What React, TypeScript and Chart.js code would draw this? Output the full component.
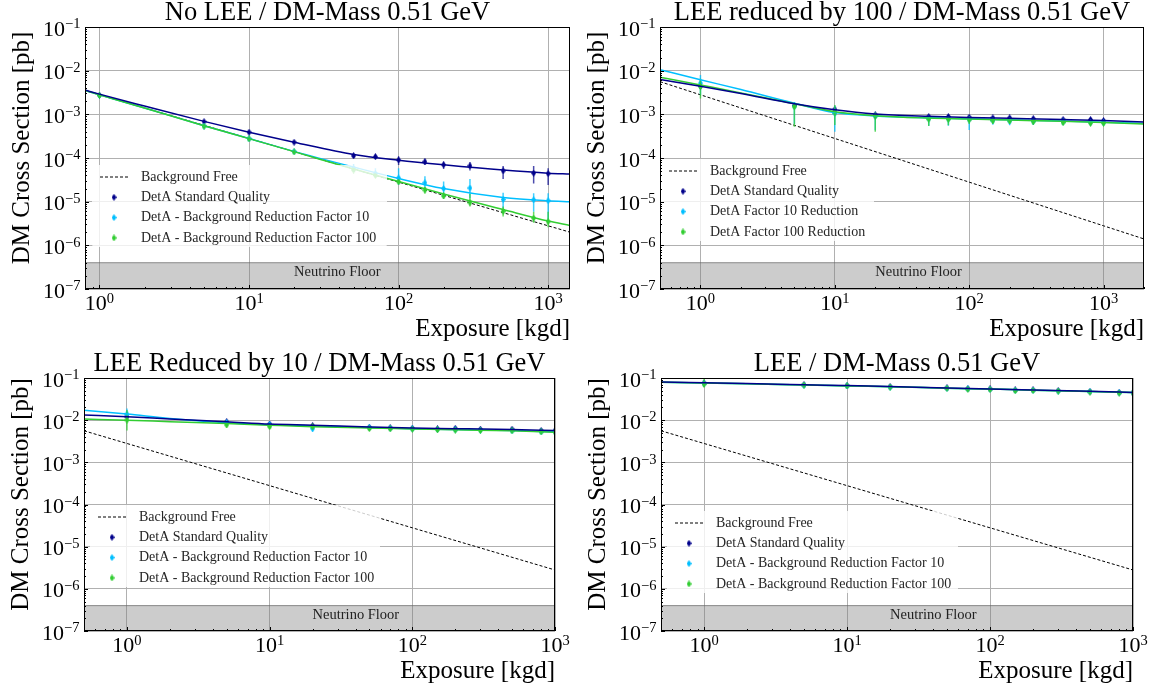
import React, { useEffect, useRef } from "react";
import { Chart, registerables } from "chart.js";
Chart.register(...registerables);

const SERIF = '"Liberation Serif", "DejaVu Serif", serif';

// ---------------- data ----------------
const EXPOSURE = [1, 5, 10, 20, 50, 70, 100, 150, 200, 300, 500, 800, 1000];

const FIT_X_NOLEE = [0.8, 1, 2, 5, 10, 20, 50, 100, 200, 500, 1000, 1400];
const FIT_X_LEE100 = [0.5, 1, 2, 5, 10, 20, 50, 100, 200, 500, 1000, 2000];
const FIT_X_LEE = [0.5, 1, 2, 5, 10, 20, 50, 100, 200, 500, 1000];

const BG_FREE_X = [0.5, 1, 10, 100, 1000, 2000];
const BG_FREE_Y = [5.6e-3, 2.8e-3, 2.8e-4, 2.8e-5, 2.8e-6, 1.4e-6];

const NU_FLOOR_TOP = 4e-7;
const NU_LABEL = "Neutrino Floor";
const NU_LABEL_X = 20;
const NU_LABEL_Y = 2.4e-7;

const X_TICKS = [1, 10, 100, 1000];
const X_TICK_EXP = ["0", "1", "2", "3"];
const Y_TICKS = [1e-7, 1e-6, 1e-5, 1e-4, 1e-3, 1e-2, 1e-1];
const Y_TICK_EXP = ["\u22127", "\u22126", "\u22125", "\u22124", "\u22123", "\u22122", "\u22121"];

const X_LABEL = "Exposure [kgd]";
const Y_LABEL = "DM Cross Section [pb]";
const BG_LABEL = "Background Free";
const SERIES_LABELS_A = [
  "DetA Standard Quality",
  "DetA - Background Reduction Factor 10",
  "DetA - Background Reduction Factor 100",
];
const SERIES_LABELS_B = ["DetA Standard Quality", "DetA Factor 10 Reduction", "DetA Factor 100 Reduction"];

// --- No LEE ---
const NOLEE_STD_Y = [2.75e-3, 6.8e-4, 3.9e-4, 2.3e-4, 1.12e-4, 1.07e-4, 9.0e-5, 8.2e-5, 7.0e-5, 6.6e-5, 5.1e-5, 4.5e-5, 4.4e-5];
const NOLEE_STD_LO = [2.55e-3, 6.3e-4, 3.65e-4, 2.15e-4, 1.0e-4, 9.5e-5, 6.9e-5, 6.9e-5, 5.6e-5, 5.2e-5, 3.3e-5, 2.6e-5, 2.4e-5];
const NOLEE_STD_HI = [2.95e-3, 7.3e-4, 4.15e-4, 2.45e-4, 1.3e-4, 1.22e-4, 1.07e-4, 9.6e-5, 8.2e-5, 8.0e-5, 6.6e-5, 6.6e-5, 5.8e-5];
const NOLEE_F10_Y = [2.7e-3, 5.4e-4, 2.75e-4, 1.4e-4, 5.8e-5, 4.4e-5, 3.5e-5, 2.7e-5, 2.0e-5, 2.05e-5, 1.12e-5, 1.1e-5, 1.05e-5];
const NOLEE_F10_LO = [2.5e-3, 5.0e-4, 2.6e-4, 1.3e-4, 4.8e-5, 3.6e-5, 2.4e-5, 1.9e-5, 1.4e-5, 1.2e-5, 7.0e-6, 5.9e-6, 3.8e-6];
const NOLEE_F10_HI = [2.9e-3, 5.8e-4, 2.95e-4, 1.5e-4, 7.0e-5, 5.8e-5, 5.8e-5, 3.8e-5, 2.9e-5, 3.3e-5, 1.6e-5, 1.55e-5, 1.55e-5];
const NOLEE_F100_Y = [2.7e-3, 5.3e-4, 2.75e-4, 1.38e-4, 5.3e-5, 4.0e-5, 2.85e-5, 1.85e-5, 1.35e-5, 9.5e-6, 6.0e-6, 4.2e-6, 3.5e-6];
const NOLEE_F100_LO = [2.5e-3, 4.9e-4, 2.6e-4, 1.28e-4, 4.8e-5, 3.6e-5, 2.5e-5, 1.55e-5, 1.15e-5, 7.8e-6, 4.6e-6, 3.3e-6, 2.6e-6];
const NOLEE_F100_HI = [2.9e-3, 5.8e-4, 2.95e-4, 1.5e-4, 5.9e-5, 4.5e-5, 3.3e-5, 2.2e-5, 1.6e-5, 1.5e-5, 7.8e-6, 5.9e-6, 5.9e-6];
const NOLEE_STD_FIT = [3.6e-3, 2.9e-3, 1.55e-3, 6.9e-4, 3.9e-4, 2.3e-4, 1.2e-4, 8.9e-5, 7.0e-5, 5.3e-5, 4.5e-5, 4.3e-5];
const NOLEE_F10_FIT = [3.5e-3, 2.8e-3, 1.4e-3, 5.5e-4, 2.8e-4, 1.42e-4, 6.2e-5, 3.4e-5, 2.0e-5, 1.25e-5, 1.05e-5, 1.0e-5];
const NOLEE_F100_FIT = [3.5e-3, 2.8e-3, 1.4e-3, 5.5e-4, 2.78e-4, 1.4e-4, 5.6e-5, 2.9e-5, 1.5e-5, 6.6e-6, 3.6e-6, 2.85e-6];

// --- LEE reduced by 100 ---
const L100_STD_Y = [4.4e-3, 1.6e-3, 1.3e-3, 9.8e-4, 8.9e-4, 8.9e-4, 8.6e-4, 8.3e-4, 8.3e-4, 8.0e-4, 7.6e-4, 7.6e-4, 7.2e-4];
const L100_STD_LO = [3.9e-3, 1.45e-3, 1.2e-3, 9.0e-4, 8.3e-4, 8.3e-4, 8.0e-4, 7.8e-4, 7.8e-4, 7.5e-4, 7.1e-4, 7.1e-4, 6.8e-4];
const L100_STD_HI = [4.9e-3, 1.75e-3, 1.45e-3, 1.06e-3, 9.5e-4, 9.5e-4, 9.2e-4, 8.9e-4, 8.9e-4, 8.5e-4, 8.1e-4, 8.1e-4, 7.7e-4];
const L100_F10_Y = [5.2e-3, 1.5e-3, 1.05e-3, 9.0e-4, 7.9e-4, 7.8e-4, 7.6e-4, 7.2e-4, 7.0e-4, 6.9e-4, 6.7e-4, 6.5e-4, 6.4e-4];
const L100_F10_LO = [2.8e-3, 6.0e-4, 4.0e-4, 4.3e-4, 5.5e-4, 5.5e-4, 4.4e-4, 5.8e-4, 5.6e-4, 5.7e-4, 5.6e-4, 5.5e-4, 5.5e-4];
const L100_F10_HI = [8.0e-3, 1.9e-3, 1.6e-3, 1.1e-3, 8.9e-4, 8.8e-4, 8.6e-4, 8.2e-4, 8.0e-4, 7.8e-4, 7.6e-4, 7.4e-4, 7.3e-4];
const L100_F100_Y = [4.3e-3, 1.5e-3, 1.1e-3, 9.1e-4, 7.8e-4, 7.7e-4, 7.5e-4, 7.2e-4, 7.1e-4, 6.8e-4, 6.5e-4, 6.3e-4, 6.3e-4];
const L100_F100_LO = [2.3e-3, 5.2e-4, 5.7e-4, 4.0e-4, 5.4e-4, 5.6e-4, 6.0e-4, 6.0e-4, 6.0e-4, 5.8e-4, 5.6e-4, 5.5e-4, 5.5e-4];
const L100_F100_HI = [6.5e-3, 1.79e-3, 1.64e-3, 1.1e-3, 8.8e-4, 8.8e-4, 8.4e-4, 8.1e-4, 8.0e-4, 7.7e-4, 7.3e-4, 7.1e-4, 7.0e-4];
const L100_STD_FIT = [6.3e-3, 4.4e-3, 3.0e-3, 1.75e-3, 1.27e-3, 1.02e-3, 9.0e-4, 8.5e-4, 8.1e-4, 7.6e-4, 7.2e-4, 6.7e-4];
const L100_F10_FIT = [1.05e-2, 6.2e-3, 3.7e-3, 1.8e-3, 1.1e-3, 9.2e-4, 8.3e-4, 7.9e-4, 7.5e-4, 7.0e-4, 6.6e-4, 6.2e-4];
const L100_F100_FIT = [7.1e-3, 4.7e-3, 3.1e-3, 1.75e-3, 1.15e-3, 9.3e-4, 8.2e-4, 7.8e-4, 7.4e-4, 6.9e-4, 6.5e-4, 6.0e-4];

// --- LEE reduced by 10 ---
const L10_STD_Y = [1.21e-2, 9.2e-3, 8.1e-3, 7.4e-3, 6.8e-3, 6.6e-3, 6.45e-3, 6.3e-3, 6.4e-3, 6.1e-3, 6.1e-3, 5.7e-3, 5.66e-3];
const L10_STD_LO = [1.0e-2, 8.4e-3, 7.5e-3, 6.9e-3, 6.3e-3, 6.1e-3, 6.0e-3, 5.8e-3, 5.9e-3, 5.6e-3, 5.6e-3, 5.3e-3, 5.2e-3];
const L10_STD_HI = [1.45e-2, 1.0e-2, 8.8e-3, 8.0e-3, 7.3e-3, 7.1e-3, 6.9e-3, 6.8e-3, 6.9e-3, 6.6e-3, 6.6e-3, 6.1e-3, 6.1e-3];
const L10_F10_Y = [1.4e-2, 8.7e-3, 7.8e-3, 6.3e-3, 6.7e-3, 6.5e-3, 6.2e-3, 6.0e-3, 5.9e-3, 5.8e-3, 5.6e-3, 5.3e-3, 5.3e-3];
const L10_F10_LO = [9.0e-3, 7.5e-3, 6.8e-3, 5.3e-3, 5.9e-3, 5.8e-3, 5.5e-3, 5.3e-3, 5.3e-3, 5.2e-3, 5.0e-3, 4.8e-3, 4.8e-3];
const L10_F10_HI = [1.9e-2, 9.8e-3, 8.8e-3, 7.2e-3, 7.4e-3, 7.2e-3, 6.9e-3, 6.7e-3, 6.5e-3, 6.4e-3, 6.2e-3, 5.8e-3, 5.8e-3];
const L10_F100_Y = [1.0e-2, 7.7e-3, 7.0e-3, 7.0e-3, 6.3e-3, 6.2e-3, 6.1e-3, 5.9e-3, 5.8e-3, 5.65e-3, 5.6e-3, 5.26e-3, 5.2e-3];
const L10_F100_LO = [5.7e-3, 6.6e-3, 6.2e-3, 6.3e-3, 5.7e-3, 5.6e-3, 5.5e-3, 5.4e-3, 5.3e-3, 5.2e-3, 5.1e-3, 4.8e-3, 4.8e-3];
const L10_F100_HI = [1.74e-2, 8.9e-3, 7.8e-3, 7.7e-3, 6.9e-3, 6.8e-3, 6.7e-3, 6.5e-3, 6.4e-3, 6.2e-3, 6.1e-3, 5.7e-3, 5.7e-3];
const L10_STD_FIT = [1.32e-2, 1.21e-2, 1.07e-2, 9.2e-3, 8.1e-3, 7.6e-3, 6.9e-3, 6.5e-3, 6.3e-3, 6.0e-3, 5.66e-3];
const L10_F10_FIT = [1.73e-2, 1.4e-2, 1.1e-2, 8.7e-3, 7.8e-3, 7.3e-3, 6.7e-3, 6.3e-3, 6.0e-3, 5.66e-3, 5.3e-3];
const L10_F100_FIT = [1.06e-2, 1.0e-2, 9.2e-3, 8.3e-3, 7.6e-3, 7.0e-3, 6.5e-3, 6.2e-3, 5.9e-3, 5.6e-3, 5.2e-3];

// --- LEE ---
const LEE_STD_Y = [7.6e-2, 6.9e-2, 6.6e-2, 6.2e-2, 5.8e-2, 5.6e-2, 5.5e-2, 5.2e-2, 5.2e-2, 5.0e-2, 4.8e-2, 4.55e-2, 4.47e-2];
const LEE_STD_LO = [6.6e-2, 6.4e-2, 6.2e-2, 5.8e-2, 5.5e-2, 5.3e-2, 5.2e-2, 4.9e-2, 4.9e-2, 4.75e-2, 4.55e-2, 4.3e-2, 4.25e-2];
const LEE_STD_HI = [8.8e-2, 7.5e-2, 7.0e-2, 6.6e-2, 6.1e-2, 5.9e-2, 5.8e-2, 5.5e-2, 5.5e-2, 5.25e-2, 5.05e-2, 4.8e-2, 4.7e-2];
const LEE_F10_Y = [7.4e-2, 6.7e-2, 6.5e-2, 6.1e-2, 5.7e-2, 5.5e-2, 5.4e-2, 5.1e-2, 5.1e-2, 4.9e-2, 4.7e-2, 4.45e-2, 4.4e-2];
const LEE_F10_LO = [6.2e-2, 6.2e-2, 6.1e-2, 5.7e-2, 5.4e-2, 5.2e-2, 5.1e-2, 4.8e-2, 4.8e-2, 4.65e-2, 4.45e-2, 4.2e-2, 4.15e-2];
const LEE_F10_HI = [9.0e-2, 7.3e-2, 6.9e-2, 6.5e-2, 6.0e-2, 5.8e-2, 5.7e-2, 5.4e-2, 5.4e-2, 5.15e-2, 4.95e-2, 4.7e-2, 4.65e-2];
const LEE_F100_Y = [7.2e-2, 6.8e-2, 6.5e-2, 6.1e-2, 5.7e-2, 5.4e-2, 5.35e-2, 5.0e-2, 5.05e-2, 4.9e-2, 4.65e-2, 4.4e-2, 4.4e-2];
const LEE_F100_LO = [6.1e-2, 6.3e-2, 6.1e-2, 5.7e-2, 5.4e-2, 5.1e-2, 5.05e-2, 4.7e-2, 4.75e-2, 4.65e-2, 4.4e-2, 4.15e-2, 4.15e-2];
const LEE_F100_HI = [9.5e-2, 7.4e-2, 6.9e-2, 6.5e-2, 6.0e-2, 5.7e-2, 5.65e-2, 5.3e-2, 5.35e-2, 5.15e-2, 4.9e-2, 4.65e-2, 4.65e-2];
const LEE_STD_FIT = [8.0e-2, 7.7e-2, 7.4e-2, 6.9e-2, 6.6e-2, 6.25e-2, 5.8e-2, 5.5e-2, 5.2e-2, 4.85e-2, 4.55e-2];
const LEE_F10_FIT = [7.9e-2, 7.6e-2, 7.3e-2, 6.8e-2, 6.5e-2, 6.2e-2, 5.75e-2, 5.45e-2, 5.15e-2, 4.8e-2, 4.5e-2];
const LEE_F100_FIT = [7.9e-2, 7.6e-2, 7.3e-2, 6.8e-2, 6.5e-2, 6.2e-2, 5.75e-2, 5.45e-2, 5.15e-2, 4.8e-2, 4.5e-2];

// ---------------- styles / layout ----------------
const SERIES_COLORS = ["#00008b", "#00bfff", "#32cd32"];
const SERIES_ERR_COLORS = ["rgba(0,0,139,0.7)", "rgba(0,191,255,0.75)", "rgba(50,205,50,0.75)"];
const CANVAS_W = 575;
const CANVAS_H = 344;
const Y_AXIS_W = 60;
const X_AXIS_H = 30;

type PanelSpec = {
  key: string;
  title: string;
  left: number;
  top: number;
  pad: { left: number; right: number; top: number; bottom: number };
  xMin: number;
  xMax: number;
  fitX: number[];
  fits: number[][];
  ys: number[][];
  lo: number[][];
  hi: number[][];
  labels: string[];
  legend: { dx: number; dy: number; w: number; h: number };
};

const PANELS: PanelSpec[] = [
  {
    key: "nolee",
    title: "No LEE / DM-Mass 0.51 GeV",
    left: 0,
    top: 0,
    pad: { left: 25, right: 5, top: 27, bottom: 25 },
    xMin: 0.8,
    xMax: 1400,
    fitX: FIT_X_NOLEE,
    fits: [NOLEE_STD_FIT, NOLEE_F10_FIT, NOLEE_F100_FIT],
    ys: [NOLEE_STD_Y, NOLEE_F10_Y, NOLEE_F100_Y],
    lo: [NOLEE_STD_LO, NOLEE_F10_LO, NOLEE_F100_LO],
    hi: [NOLEE_STD_HI, NOLEE_F10_HI, NOLEE_F100_HI],
    labels: SERIES_LABELS_A,
    legend: { dx: 7, dy: 138, w: 295, h: 82 },
  },
  {
    key: "lee100",
    title: "LEE reduced by 100 / DM-Mass 0.51 GeV",
    left: 575,
    top: 0,
    pad: { left: 25, right: 6, top: 27, bottom: 25 },
    xMin: 0.5,
    xMax: 2000,
    fitX: FIT_X_LEE100,
    fits: [L100_STD_FIT, L100_F10_FIT, L100_F100_FIT],
    ys: [L100_STD_Y, L100_F10_Y, L100_F100_Y],
    lo: [L100_STD_LO, L100_F10_LO, L100_F100_LO],
    hi: [L100_STD_HI, L100_F10_HI, L100_F100_HI],
    labels: SERIES_LABELS_B,
    legend: { dx: 1, dy: 132, w: 213, h: 82 },
  },
  {
    key: "lee10",
    title: "LEE Reduced by 10 / DM-Mass 0.51 GeV",
    left: 0,
    top: 344,
    pad: { left: 24, right: 20, top: 34, bottom: 27 },
    xMin: 0.5,
    xMax: 1000,
    fitX: FIT_X_LEE,
    fits: [L10_STD_FIT, L10_F10_FIT, L10_F100_FIT],
    ys: [L10_STD_Y, L10_F10_Y, L10_F100_Y],
    lo: [L10_STD_LO, L10_F10_LO, L10_F100_LO],
    hi: [L10_STD_HI, L10_F10_HI, L10_F100_HI],
    labels: SERIES_LABELS_A,
    legend: { dx: 6, dy: 127, w: 290, h: 82 },
  },
  {
    key: "lee",
    title: "LEE / DM-Mass 0.51 GeV",
    left: 575,
    top: 344,
    pad: { left: 26, right: 17, top: 34, bottom: 27 },
    xMin: 0.5,
    xMax: 1000,
    fitX: FIT_X_LEE,
    fits: [LEE_STD_FIT, LEE_F10_FIT, LEE_F100_FIT],
    ys: [LEE_STD_Y, LEE_F10_Y, LEE_F100_Y],
    lo: [LEE_STD_LO, LEE_F10_LO, LEE_F100_LO],
    hi: [LEE_STD_HI, LEE_F10_HI, LEE_F100_HI],
    labels: SERIES_LABELS_A,
    legend: { dx: 6, dy: 133, w: 291, h: 82 },
  },
];

function makeDiamond(color: string): HTMLCanvasElement {
  const c = document.createElement("canvas");
  c.width = 5;
  c.height = 7;
  const g = c.getContext("2d")!;
  g.fillStyle = color;
  g.beginPath();
  g.moveTo(2.5, 0);
  g.lineTo(5, 3.5);
  g.lineTo(2.5, 7);
  g.lineTo(0, 3.5);
  g.closePath();
  g.fill();
  return c;
}

function errorSegments(xs: number[], lo: number[], hi: number[]) {
  const out: { x: number; y: number | null }[] = [];
  xs.forEach((x, i) => {
    out.push({ x, y: lo[i] }, { x, y: hi[i] }, { x, y: null });
  });
  return out;
}

function zip(xs: number[], ys: number[]) {
  return xs.map((x, i) => ({ x, y: ys[i] }));
}

function buildConfig(p: PanelSpec): any {
  const diamonds = SERIES_COLORS.map(makeDiamond);
  const ds: any[] = [];
  // neutrino floor band
  ds.push({
    data: [
      { x: p.xMin, y: NU_FLOOR_TOP },
      { x: p.xMax, y: NU_FLOOR_TOP },
    ],
    fill: "start",
    backgroundColor: "rgba(128,128,128,0.4)",
    borderColor: "rgba(100,100,100,0.7)",
    borderWidth: 1,
    pointRadius: 0,
  });
  // background-free line
  ds.push({
    data: zip(BG_FREE_X, BG_FREE_Y),
    borderColor: "#000",
    borderWidth: 1,
    borderDash: [3, 2],
    pointRadius: 0,
    fill: false,
  });
  // points + error bars
  for (let s = 0; s < 3; s++) {
    ds.push({
      data: errorSegments(EXPOSURE, p.lo[s], p.hi[s]),
      borderColor: SERIES_ERR_COLORS[s],
      borderWidth: 1.5,
      pointRadius: 0,
      spanGaps: false,
      fill: false,
    });
    ds.push({
      data: zip(EXPOSURE, p.ys[s]),
      showLine: false,
      pointStyle: diamonds[s],
      pointRadius: 3,
      borderWidth: 0,
      fill: false,
    });
  }
  // fit curves: cyan, green, navy on top
  [1, 2, 0].forEach((s) => {
    ds.push({
      data: zip(p.fitX, p.fits[s]),
      borderColor: SERIES_COLORS[s],
      borderWidth: 1.5,
      pointRadius: 0,
      cubicInterpolationMode: "monotone",
      fill: false,
    });
  });
  const n = ds.length;
  ds.forEach((d, i) => (d.order = n - i));

  const decor = {
    id: "decor_" + p.key,
    afterDatasetsDraw(chart: any) {
      const ctx: CanvasRenderingContext2D = chart.ctx;
      const a = chart.chartArea;
      const xs = chart.scales.x;
      const ys = chart.scales.y;
      ctx.save();

      // neutrino floor label
      ctx.fillStyle = "#222";
      ctx.font = `14.5px ${SERIF}`;
      ctx.textAlign = "left";
      ctx.textBaseline = "middle";
      ctx.fillText(NU_LABEL, xs.getPixelForValue(NU_LABEL_X), ys.getPixelForValue(NU_LABEL_Y));

      // legend
      const bx = a.left + p.legend.dx;
      const by = a.top + p.legend.dy;
      ctx.fillStyle = "rgba(255,255,255,0.8)";
      ctx.beginPath();
      ctx.roundRect(bx, by, p.legend.w, p.legend.h, 3);
      ctx.fill();
      const rowY = (i: number) => by + 12 + i * 20.3;
      ctx.strokeStyle = "#000";
      ctx.lineWidth = 1;
      ctx.setLineDash([3, 2]);
      ctx.beginPath();
      ctx.moveTo(bx + 8, rowY(0));
      ctx.lineTo(bx + 37, rowY(0));
      ctx.stroke();
      ctx.setLineDash([]);
      ctx.font = `14px ${SERIF}`;
      ctx.fillStyle = "#262626";
      ctx.textAlign = "left";
      ctx.textBaseline = "middle";
      ctx.fillText(BG_LABEL, bx + 49, rowY(0));
      for (let s = 0; s < 3; s++) {
        ctx.drawImage(diamonds[s], bx + 22 - 2.5, rowY(s + 1) - 3.5);
        ctx.fillText(p.labels[s], bx + 49, rowY(s + 1));
      }

      // spines
      ctx.strokeStyle = "#000";
      ctx.lineWidth = 1;
      ctx.strokeRect(a.left + 0.5, a.top + 0.5, a.right - a.left - 1, a.bottom - a.top - 1);

      // inward ticks
      ctx.beginPath();
      for (let d = -8; d <= 4; d++) {
        for (let k = 1; k <= 9; k++) {
          const v = k * Math.pow(10, d);
          const len = k === 1 ? 4 : 2;
          if (v >= p.xMin && v <= p.xMax) {
            const x = Math.round(xs.getPixelForValue(v)) + 0.5;
            ctx.moveTo(x, a.bottom);
            ctx.lineTo(x, a.bottom - len);
          }
          if (v >= 1e-7 * 0.999 && v <= 1e-1 * 1.001) {
            const y = Math.round(ys.getPixelForValue(v)) + 0.5;
            ctx.moveTo(a.left, y);
            ctx.lineTo(a.left + len, y);
          }
        }
      }
      ctx.stroke();

      // tick labels
      ctx.fillStyle = "#000";
      ctx.textAlign = "left";
      ctx.textBaseline = "alphabetic";
      const BASE_FONT = `22px ${SERIF}`;
      const EXP_FONT = `14.5px ${SERIF}`;
      Y_TICKS.forEach((v, i) => {
        const y = ys.getPixelForValue(v);
        ctx.font = EXP_FONT;
        const ew = ctx.measureText(Y_TICK_EXP[i]).width;
        ctx.font = BASE_FONT;
        const bw = ctx.measureText("10").width;
        const right = a.left - 4.5;
        ctx.fillText("10", right - ew - bw, y + 8.5);
        ctx.font = EXP_FONT;
        ctx.fillText(Y_TICK_EXP[i], right - ew, y + 1.2);
      });
      X_TICKS.forEach((v, i) => {
        if (v < p.xMin || v > p.xMax) return;
        const x = xs.getPixelForValue(v);
        ctx.font = EXP_FONT;
        const ew = ctx.measureText(X_TICK_EXP[i]).width;
        ctx.font = BASE_FONT;
        const bw = ctx.measureText("10").width;
        const start = x - (bw + ew) / 2;
        ctx.fillText("10", start, a.bottom + 21);
        ctx.font = EXP_FONT;
        ctx.fillText(X_TICK_EXP[i], start + bw, a.bottom + 13.7);
      });

      // title
      ctx.font = `26.5px ${SERIF}`;
      ctx.textAlign = "center";
      ctx.fillText(p.title, (a.left + a.right) / 2, a.top - 7);

      // x label
      ctx.font = `25px ${SERIF}`;
      ctx.textAlign = "right";
      ctx.fillText(X_LABEL, a.right, a.bottom + 47);

      // y label
      ctx.save();
      ctx.translate(a.left - 63, (a.top + a.bottom) / 2 - 10);
      ctx.rotate(-Math.PI / 2);
      ctx.textAlign = "center";
      ctx.textBaseline = "middle";
      ctx.fillText(Y_LABEL, 0, 0);
      ctx.restore();

      ctx.restore();
    },
  };

  return {
    type: "line",
    data: { datasets: ds },
    options: {
      responsive: false,
      maintainAspectRatio: false,
      animation: false,
      devicePixelRatio: 1,
      events: [],
      layout: { padding: p.pad },
      plugins: {
        legend: { display: false },
        tooltip: { enabled: false },
        title: { display: false },
      },
      scales: {
        x: {
          type: "logarithmic",
          min: p.xMin,
          max: p.xMax,
          afterBuildTicks: (s: any) => {
            s.ticks = X_TICKS.filter((v) => v >= p.xMin && v <= p.xMax).map((v) => ({ value: v }));
          },
          afterFit: (s: any) => {
            s.height = X_AXIS_H;
          },
          ticks: { display: false },
          grid: { color: "#b0b0b0", lineWidth: 1, drawTicks: false },
          border: { display: false },
        },
        y: {
          type: "logarithmic",
          min: 1e-7,
          max: 1e-1,
          afterBuildTicks: (s: any) => {
            s.ticks = Y_TICKS.map((v) => ({ value: v }));
          },
          afterFit: (s: any) => {
            s.width = Y_AXIS_W;
          },
          ticks: { display: false },
          grid: { color: "#b0b0b0", lineWidth: 1, drawTicks: false },
          border: { display: false },
        },
      },
    },
    plugins: [decor],
  };
}

function Panel({ spec }: { spec: PanelSpec }) {
  const ref = useRef<HTMLCanvasElement>(null);
  useEffect(() => {
    const chart = new Chart(ref.current as HTMLCanvasElement, buildConfig(spec));
    return () => chart.destroy();
  }, [spec]);
  return (
    <canvas
      ref={ref}
      width={CANVAS_W}
      height={CANVAS_H}
      style={{ position: "absolute", left: spec.left, top: spec.top, width: CANVAS_W, height: CANVAS_H }}
    />
  );
}

export default function App() {
  return (
    <div style={{ position: "absolute", left: 0, top: 0, width: 1150, height: 688, background: "#fff", overflow: "hidden" }}>
      {PANELS.map((p) => (
        <Panel key={p.key} spec={p} />
      ))}
    </div>
  );
}
